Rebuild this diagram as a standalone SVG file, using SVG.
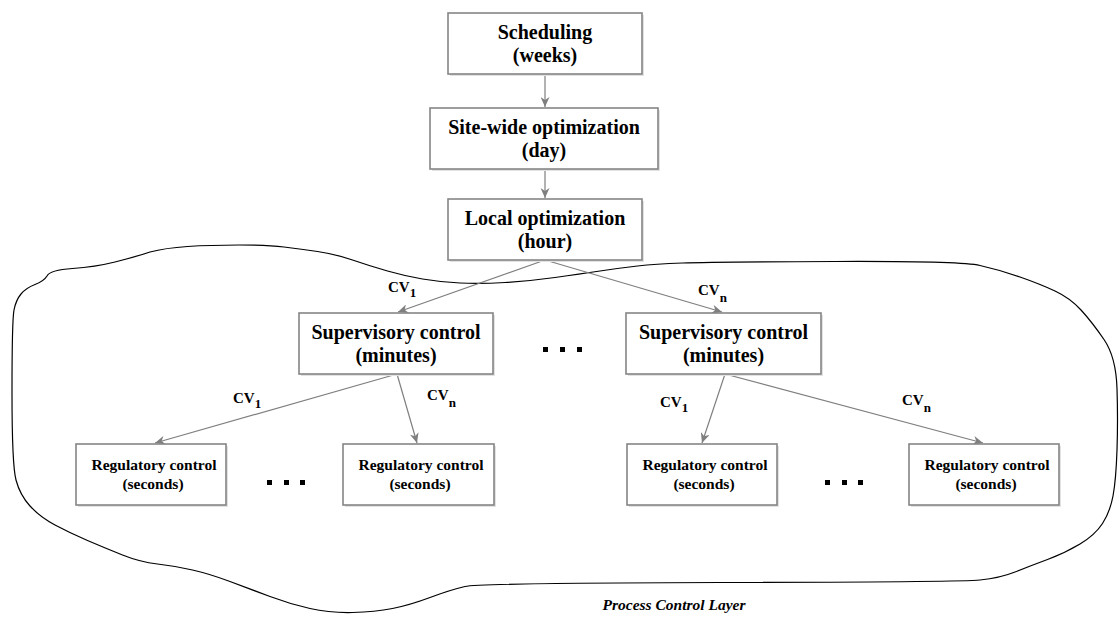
<svg xmlns="http://www.w3.org/2000/svg" width="1119" height="621" viewBox="0 0 1119 621" font-family="'Liberation Serif', 'DejaVu Serif', serif">
<style>
.box{fill:#ffffff;stroke:#858585;stroke-width:1.6}
.shadow{fill:#e2e2e2}
text{font-family:'Liberation Serif','DejaVu Serif',serif;font-weight:bold;fill:#000}
.t20{font-size:20px;text-anchor:middle}
.t15{font-size:15.5px;text-anchor:middle}
.cv{font-size:15px}
.sub{font-size:13px}
.conn{stroke:#7f7f7f;stroke-width:1.2;fill:none;marker-end:url(#arr)}
.dot{fill:#000}
.blob{fill:none;stroke:#000;stroke-width:1.2}
</style>
<defs>
<marker id="arr" markerUnits="userSpaceOnUse" markerWidth="11" markerHeight="9" refX="10" refY="4.5" orient="auto">
<path d="M0,0 L10,4.5 L0,9 L3,4.5 z" fill="#7f7f7f"/>
</marker>
</defs>
<rect width="1119" height="621" fill="#ffffff"/>
<g id="process-control-layer">
<path class="blob" d="M47,276 Q50,270 72.5,268.5 Q95,267 115,262 Q135,257 150,252 Q165,248 187.5,246.5 Q210,245 239,245 Q268,245 284,247 Q300,249 317.5,251.5 Q335,254 352.5,260 Q370,266 387.5,271 Q405,276 422.5,279 Q440,282 460,283 Q480,284 505,282.5 Q530,281 555,277.5 Q580,274 600,271 Q620,268 637.5,266 Q655,264 682.5,263 Q710,262 835,261.5 Q960,261 980,265.5 Q1000,270 1020,277 Q1040,284 1055,291 Q1070,298 1081,310 Q1092,322 1104,339.5 Q1116,357 1117,388.5 Q1118,420 1117,450 Q1116,480 1113,496 Q1110,512 1102.5,523.5 Q1095,535 1080,544 Q1065,553 1047.5,559.5 Q1030,566 1015,572 Q1000,578 980,580 Q960,582 720,582.5 Q480,583 465,586.5 Q450,590 430,597.5 Q410,605 392.5,608.5 Q375,612 352.5,612.5 Q330,613 310,608.5 Q290,604 270,596.5 Q250,589 230,581.5 Q210,574 192.5,570 Q175,566 157.5,564 Q140,562 122.5,555 Q105,548 87.5,540.5 Q70,533 55,525 Q40,517 30,506 Q20,495 16,480 Q12,465 12,392.5 Q12,320 14,310 Q16,300 21,294 Q26,288 35,284.5 Q44,281 47,276 Z"/>
<text class="t15" x="674" y="610" font-style="italic">Process Control Layer</text>
</g>
<g id="connectors">
<line class="conn" x1="545" y1="74" x2="545" y2="107"/>
<line class="conn" x1="545" y1="169" x2="545" y2="198"/>
<line class="conn" x1="545" y1="260" x2="398" y2="312"/>
<line class="conn" x1="545" y1="260" x2="722" y2="312"/>
<line class="conn" x1="397" y1="374" x2="155" y2="443"/>
<line class="conn" x1="397" y1="374" x2="417" y2="443"/>
<line class="conn" x1="725" y1="374" x2="702" y2="443"/>
<line class="conn" x1="725" y1="374" x2="983" y2="443"/>
<text class="cv" x="388" y="292">CV<tspan class="sub" dy="5">1</tspan></text>
<text class="cv" x="698" y="295">CV<tspan class="sub" dy="7">n</tspan></text>
<text class="cv" x="233" y="403">CV<tspan class="sub" dy="5">1</tspan></text>
<text class="cv" x="427" y="400">CV<tspan class="sub" dy="7">n</tspan></text>
<text class="cv" x="660" y="407">CV<tspan class="sub" dy="5">1</tspan></text>
<text class="cv" x="902" y="405">CV<tspan class="sub" dy="7">n</tspan></text>
</g>
<g id="scheduling">
<rect class="shadow" x="450" y="15" width="194" height="61"/>
<rect class="box" x="448" y="13" width="194" height="61"/>
<text class="t20" x="545" y="39">Scheduling</text>
<text class="t20" x="545" y="62">(weeks)</text>
</g>
<g id="site-wide-optimization">
<rect class="shadow" x="432" y="110" width="228" height="61"/>
<rect class="box" x="430" y="108" width="228" height="61"/>
<text class="t20" x="544" y="134">Site-wide optimization</text>
<text class="t20" x="544" y="157">(day)</text>
</g>
<g id="local-optimization">
<rect class="shadow" x="450" y="201" width="194" height="61"/>
<rect class="box" x="448" y="199" width="194" height="61"/>
<text class="t20" x="545" y="225">Local optimization</text>
<text class="t20" x="545" y="248">(hour)</text>
</g>
<g id="supervisory-1">
<rect class="shadow" x="301" y="315" width="194" height="61"/>
<rect class="box" x="299" y="313" width="194" height="61"/>
<text class="t20" x="396" y="339">Supervisory control</text>
<text class="t20" x="396" y="362">(minutes)</text>
</g>
<g id="supervisory-2">
<rect class="shadow" x="628" y="315" width="195" height="61"/>
<rect class="box" x="626" y="313" width="195" height="61"/>
<text class="t20" x="723.5" y="339">Supervisory control</text>
<text class="t20" x="723.5" y="362">(minutes)</text>
</g>
<g id="dots-supervisory">
<rect class="dot" x="543" y="347" width="5" height="5"/>
<rect class="dot" x="560" y="347" width="5" height="5"/>
<rect class="dot" x="577" y="347" width="5" height="5"/>
</g>
<g id="regulatory-1">
<rect class="shadow" x="78" y="446" width="150" height="61"/>
<rect class="box" x="76" y="444" width="150" height="61"/>
<text class="t15" x="154" y="470">Regulatory control</text>
<text class="t15" x="153" y="489">(seconds)</text>
</g>
<g id="regulatory-2">
<rect class="shadow" x="345" y="446" width="151" height="61"/>
<rect class="box" x="343" y="444" width="151" height="61"/>
<text class="t15" x="421" y="470">Regulatory control</text>
<text class="t15" x="420" y="489">(seconds)</text>
</g>
<g id="regulatory-3">
<rect class="shadow" x="629" y="446" width="150" height="61"/>
<rect class="box" x="627" y="444" width="150" height="61"/>
<text class="t15" x="705" y="470">Regulatory control</text>
<text class="t15" x="704" y="489">(seconds)</text>
</g>
<g id="regulatory-4">
<rect class="shadow" x="911" y="446" width="150" height="61"/>
<rect class="box" x="909" y="444" width="150" height="61"/>
<text class="t15" x="987" y="470">Regulatory control</text>
<text class="t15" x="986" y="489">(seconds)</text>
</g>
<g id="dots-regulatory-left">
<rect class="dot" x="267" y="480" width="5" height="5"/>
<rect class="dot" x="284" y="480" width="5" height="5"/>
<rect class="dot" x="300" y="480" width="5" height="5"/>
</g>
<g id="dots-regulatory-right">
<rect class="dot" x="825" y="480" width="5" height="5"/>
<rect class="dot" x="842" y="480" width="5" height="5"/>
<rect class="dot" x="858" y="480" width="5" height="5"/>
</g>
</svg>
